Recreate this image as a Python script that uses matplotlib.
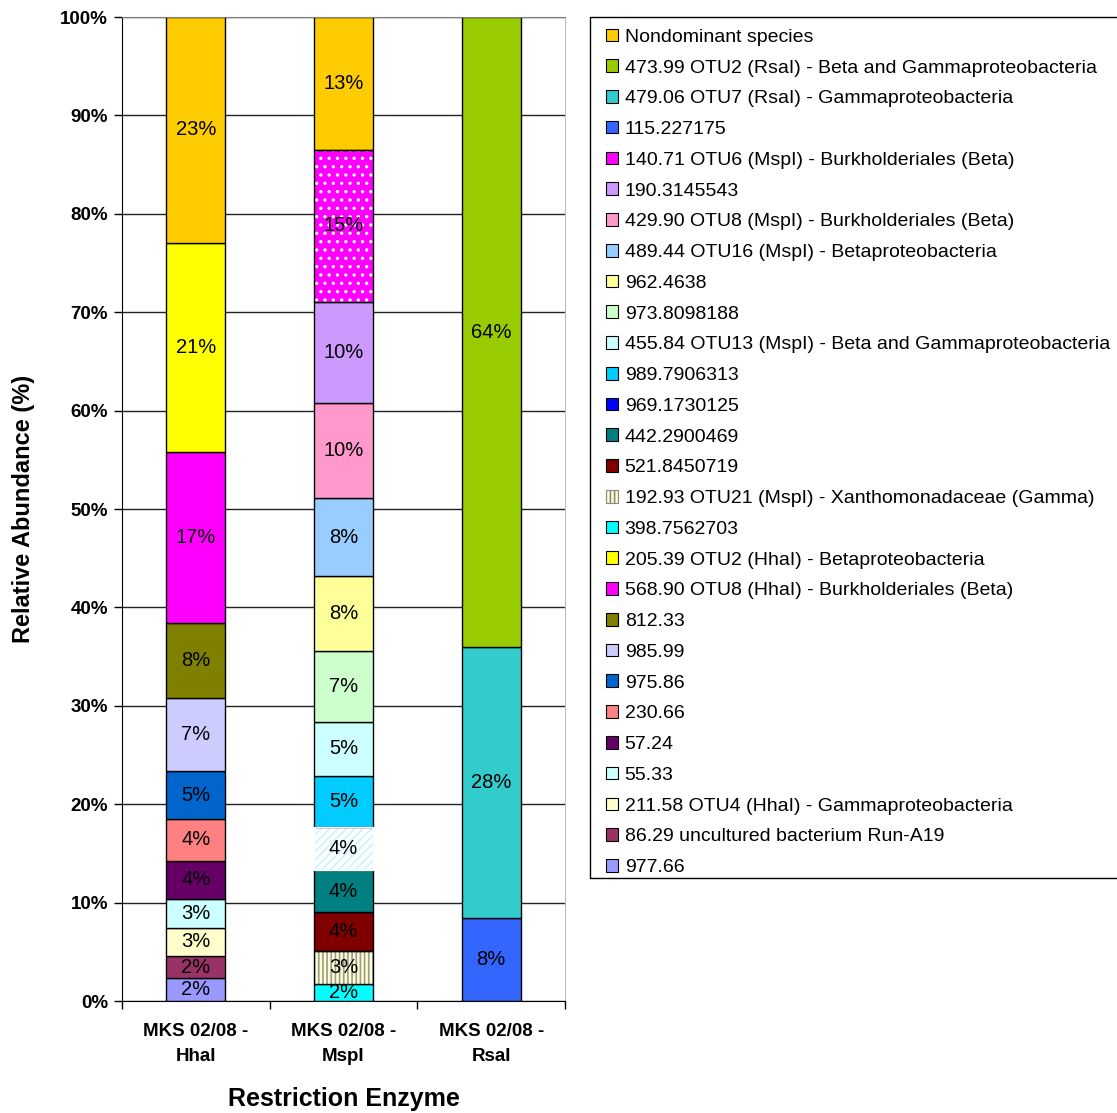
import matplotlib
matplotlib.use('Agg')
import matplotlib.pyplot as plt
from matplotlib.patches import Patch, Rectangle
import numpy as np

plt.rcParams['font.family'] = ['Liberation Sans', 'DejaVu Sans']
plt.rcParams['hatch.linewidth'] = 1.2

# categories (x axis)
categories = ['MKS 02/08 -\nHhaI', 'MKS 02/08 -\nMspI', 'MKS 02/08 -\nRsaI']

# series in stacking order, bottom to top
series = [
    '977.66',
    '86.29 uncultured bacterium Run-A19',
    '211.58 OTU4 (HhaI) - Gammaproteobacteria',
    '55.33',
    '57.24',
    '230.66',
    '975.86',
    '985.99',
    '812.33',
    '568.90 OTU8 (HhaI) - Burkholderiales (Beta)',
    '205.39 OTU2 (HhaI) - Betaproteobacteria',
    '398.7562703',
    '192.93 OTU21 (MspI) - Xanthomonadaceae (Gamma)',
    '521.8450719',
    '442.2900469',
    '969.1730125',
    '989.7906313',
    '455.84 OTU13 (MspI) - Beta and Gammaproteobacteria',
    '973.8098188',
    '962.4638',
    '489.44 OTU16 (MspI) - Betaproteobacteria',
    '429.90 OTU8 (MspI) - Burkholderiales (Beta)',
    '190.3145543',
    '140.71 OTU6 (MspI) - Burkholderiales (Beta)',
    '115.227175',
    '479.06 OTU7 (RsaI) - Gammaproteobacteria',
    '473.99 OTU2 (RsaI) - Beta and Gammaproteobacteria',
    'Nondominant species',
]

colors = [
    '#9999FF', '#993366', '#FFFFCC', '#CCFFFF', '#660066', '#FF8080',
    '#0066CC', '#CCCCFF', '#808000', '#FF00FF', '#FFFF00',
    '#00FFFF', '#FFFFCC', '#800000', '#008080', '#FFFFFF', '#00CCFF',
    '#CCFFFF', '#CCFFCC', '#FFFF99', '#99CCFF', '#FF99CC', '#CC99FF',
    '#FF00FF', '#3366FF', '#33CCCC', '#99CC00', '#FFCC00',
]

# relative abundance (%) per enzyme, same order as series
hhal = [2.31, 2.26, 2.88, 2.89, 3.92, 4.27, 4.81, 7.42, 7.62, 17.38, 21.30,
        0, 0, 0, 0, 0, 0, 0, 0, 0, 0, 0, 0, 0,
        0, 0, 0, 22.94]
mspl = [0, 0, 0, 0, 0, 0, 0, 0, 0, 0, 0,
        1.73, 3.38, 3.90, 4.30, 4.40, 5.20, 5.45, 7.21, 7.62, 7.93, 9.68, 10.22, 15.49,
        0, 0, 0, 13.49]
rsal = [0, 0, 0, 0, 0, 0, 0, 0, 0, 0, 0,
        0, 0, 0, 0, 0, 0, 0, 0, 0, 0, 0, 0, 0,
        8.45, 27.53, 64.02, 0]

# patterned fills: series index -> (hatch, hatch colour)
patterns = {
    12: ('||||', '#999999'),
    15: ('////', '#C8F4FF'),
    23: ('..', '#FFFFFF'),
}
legend_override = {15: '#0000FF'}

fig = plt.figure(figsize=(11.17, 11.13), dpi=100)
ax = fig.add_axes([0.1092, 0.1006, 0.3966, 0.8841])

data = np.array([hhal, mspl, rsal]).T
x = np.arange(len(categories))
bottom = np.zeros(len(categories))
width = 0.4

for i, name in enumerate(series):
    vals = data[i]
    idx = vals > 0
    if i in patterns:
        h, hc = patterns[i]
        ax.bar(x[idx], vals[idx], width, bottom=bottom[idx], color=colors[i],
               hatch=h, edgecolor=hc, linewidth=0, zorder=2)
        ec = 'white' if i == 15 else 'black'
        ax.bar(x[idx], vals[idx], width, bottom=bottom[idx], fill=False,
               edgecolor=ec, linewidth=1, zorder=3)
    else:
        ax.bar(x[idx], vals[idx], width, bottom=bottom[idx], color=colors[i],
               edgecolor='black', linewidth=1, zorder=2)
    for xi, v, b in zip(x, vals, bottom):
        if v > 0:
            ax.text(xi, b + v / 2, f'{v:.0f}%', ha='center', va='center',
                    fontsize=14.5, zorder=4)
    bottom += vals

ax.set_xlim(-0.5, 2.5)
ax.set_ylim(0, 100)
ax.set_yticks(np.arange(0, 101, 10))
ax.set_yticklabels([f'{v}%' for v in range(0, 101, 10)], fontsize=13.5, fontweight='bold')
ax.tick_params(axis='y', direction='out', length=6, width=1, pad=4)
ax.set_xticks([-0.5, 0.5, 1.5, 2.5])
ax.set_xticklabels([])
ax.tick_params(axis='x', which='major', direction='out', length=6, width=1)
ax.set_xticks(x, minor=True)
ax.set_xticklabels(categories, minor=True, fontsize=13.5, fontweight='bold',
                   linespacing=1.6)
ax.tick_params(axis='x', which='minor', length=0, pad=16)

ax.yaxis.grid(True, color='#222222', linewidth=1, zorder=0)
ax.set_axisbelow(True)
ax.spines['top'].set_color('#808080')
ax.spines['right'].set_color('#BBBBBB')
ax.spines['left'].set_color('black')
ax.spines['bottom'].set_color('black')

ax.set_ylabel('Relative Abundance (%)', fontsize=17, fontweight='bold', labelpad=18)
ax.set_xlabel('Restriction Enzyme', fontsize=18, fontweight='bold', labelpad=16)

handles = []
for i in range(len(series) - 1, -1, -1):
    if i in legend_override:
        handles.append(Patch(facecolor=legend_override[i], edgecolor='black', linewidth=0.8))
    elif i == 12:
        handles.append(Patch(facecolor=colors[i], edgecolor='#888888', hatch='||||', linewidth=0.8))
    else:
        handles.append(Patch(facecolor=colors[i], edgecolor='black', linewidth=0.8))
labels = series[::-1]

fig.legend(handles, labels, loc='upper left', bbox_to_anchor=(592 / 1117, 1 - 15 / 1113),
           fontsize=14, frameon=False, borderaxespad=0, borderpad=0.7,
           handlelength=0.62, handleheight=0.62, handletextpad=0.36,
           labelspacing=0.70)
# legend box (runs off the right edge, as in the original)
fig.add_artist(Rectangle((590 / 1117, 1 - 878 / 1113), 540 / 1117, 861 / 1113,
                         transform=fig.transFigure, fill=False,
                         edgecolor='black', linewidth=1))

fig.savefig('out.png', dpi=100)
